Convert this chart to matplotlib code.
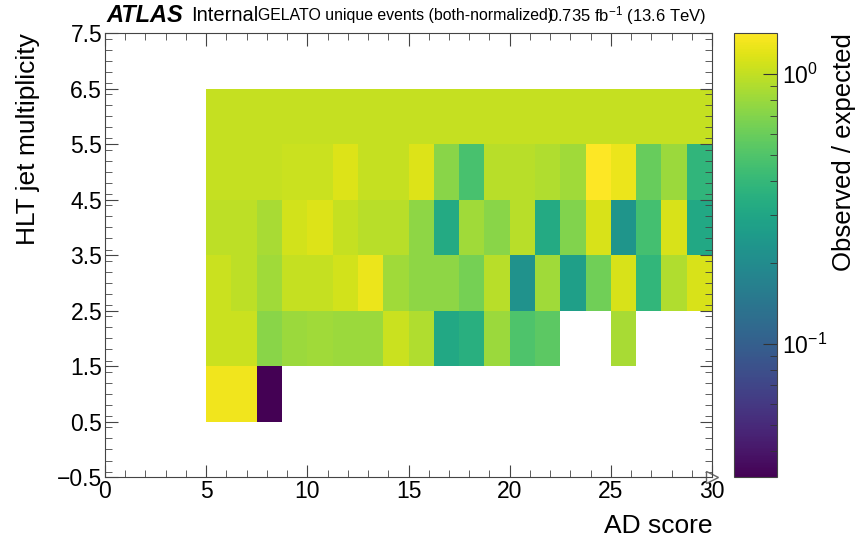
import numpy as np
import matplotlib
matplotlib.use("Agg")
import matplotlib.pyplot as plt
from matplotlib.colors import LogNorm
from matplotlib.ticker import MultipleLocator

plt.rcParams['font.family'] = ['Liberation Sans', 'DejaVu Sans']
plt.rcParams['mathtext.fontset'] = 'custom'
plt.rcParams['mathtext.rm'] = 'Liberation Sans'
plt.rcParams['mathtext.it'] = 'Liberation Sans:italic'
plt.rcParams['mathtext.bf'] = 'Liberation Sans:bold'

nan = np.nan

# Bordes de los bins (AD score y multiplicidad de jets)
ad_edges = np.linspace(5, 30, 21)
njet_edges = np.arange(0.5, 7.0, 1.0)

# Cociente observado / esperado, una fila por multiplicidad (1..6)
ratio_nj1 = [1.31, 1.31, 0.032, nan, nan, nan, nan, nan, nan, nan,
             nan, nan, nan, nan, nan, nan, nan, nan, nan, nan]
ratio_nj2 = [1.05, 1.05, 0.72, 0.80, 0.83, 0.80, 0.80, 1.05, 0.90, 0.31,
             0.35, 0.80, 0.49, 0.55, nan, nan, 0.87, nan, nan, nan]
ratio_nj3 = [1.05, 0.97, 0.83, 1.01, 1.01, 1.09, 1.27, 0.83, 0.75, 0.75,
             0.64, 0.94, 0.22, 0.83, 0.27, 0.62, 1.13, 0.39, 0.90, 1.13]
ratio_nj4 = [0.97, 0.97, 0.87, 1.09, 1.17, 1.01, 0.94, 0.94, 0.75, 0.32,
             0.83, 0.72, 0.94, 0.32, 0.69, 1.13, 0.23, 0.46, 1.13, 0.31]
ratio_nj5 = [1.01, 1.01, 1.01, 1.05, 1.05, 1.17, 1.01, 1.01, 1.17, 0.72,
             0.47, 0.94, 0.94, 0.90, 0.83, 1.42, 1.27, 0.59, 0.80, 0.38]
ratio_nj6 = [1.02, 1.02, 1.02, 1.02, 1.02, 1.02, 1.02, 1.02, 1.02, 1.01,
             1.01, 1.01, 1.01, 1.01, 1.01, 1.01, 1.01, 1.01, 1.01, 1.01]

ratio = np.array([ratio_nj1, ratio_nj2, ratio_nj3, ratio_nj4, ratio_nj5, ratio_nj6])
ratio = np.ma.masked_invalid(ratio)

fig = plt.figure(figsize=(8.6, 5.41), dpi=100)
ax = fig.add_axes([0.122, 0.118, 0.706, 0.821])
cax = fig.add_axes([0.854, 0.118, 0.050, 0.821])

mesh = ax.pcolormesh(ad_edges, njet_edges, ratio, cmap='viridis',
                     norm=LogNorm(vmin=0.032, vmax=1.42))

ax.set_xlim(0, 30)
ax.set_ylim(-0.5, 7.5)
ax.xaxis.set_major_locator(MultipleLocator(5))
ax.xaxis.set_minor_locator(MultipleLocator(1))
ax.set_yticks(np.arange(-0.5, 7.6, 1.0))
ax.yaxis.set_minor_locator(MultipleLocator(0.2))
ax.tick_params(which='both', direction='in', top=True, right=True,
               labelsize=16.5, color='#444444', pad=2)
ax.tick_params(which='major', length=9)
ax.tick_params(which='minor', length=5)
for sp in ax.spines.values():
    sp.set_color('#444444')

ax.set_xlabel("AD score", fontsize=19, loc='right', labelpad=8)
ax.set_ylabel("HLT jet multiplicity", fontsize=19, loc='top', labelpad=12)

# Flecha del eje x (estilo ROOT)
ax.plot(1.0, 0.0, marker='>', ms=8, mfc='white', mec='#666666',
        transform=ax.transAxes, clip_on=False)

# Barra de color
cb = fig.colorbar(mesh, cax=cax)
cb.outline.set_edgecolor('#444444')
cax.tick_params(which='both', direction='in', labelsize=16.5, color='#333333')
cax.tick_params(which='major', length=10)
cax.tick_params(which='minor', length=5)
cb.set_label("Observed / expected", fontsize=18.5, loc='top', labelpad=3)

# Textos de cabecera
fig.text(0.124, 0.972, "ATLAS", fontsize=17, fontweight='bold',
         style='italic', va='center')
fig.text(0.222, 0.972, "Internal", fontsize=14.5, va='center')
fig.text(0.300, 0.972, "GELATO unique events (both-normalized)",
         fontsize=11.4, va='center')
fig.text(0.637, 0.972, r"0.735 fb$^{-1}$ (13.6 TeV)", fontsize=12,
         va='center')

fig.savefig("out.png", dpi=100)
